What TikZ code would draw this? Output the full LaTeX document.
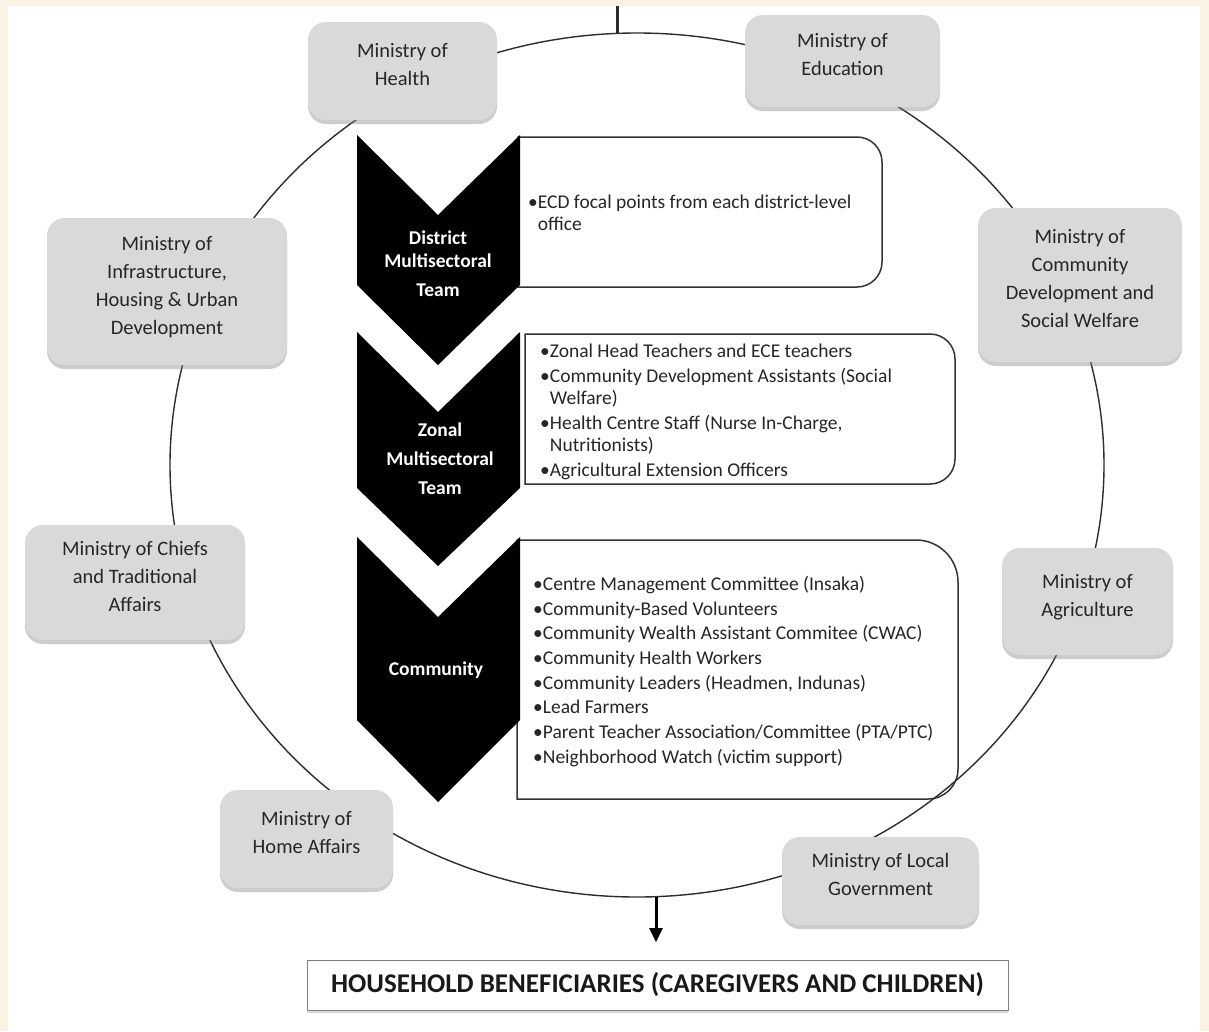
\documentclass[tikz,border=0pt]{standalone}
\usepackage{fontspec}
\setmainfont{Carlito}
\usetikzlibrary{arrows.meta, shadows}

\definecolor{paper}{RGB}{250,243,228}
\definecolor{boxgray}{RGB}{217,217,217}
\definecolor{ringline}{RGB}{45,45,45}

\begin{document}
\begin{tikzpicture}[x=1pt, y=-1pt,
    ministry/.style={fill=boxgray, rounded corners=18pt, align=center, inner sep=0pt,
        text=black!85, font=\fontsize{20.5}{28}\selectfont, text depth=13pt,
        drop shadow={shadow xshift=0pt, shadow yshift=-4pt, opacity=0.4}},
    teamlabel/.style={align=center, text=white, font=\bfseries\fontsize{19.5}{23}\selectfont},
    listtext/.style={align=left, anchor=north west, inner sep=0pt, text=black!85,
        font=\fontsize{19.5}{22}\selectfont},
    listbox/.style={draw=black!80, line width=1.5pt, fill=white},
    ring/.style={draw=ringline, line width=1.4pt}]

% page and frame
\useasboundingbox (0,0) rectangle (1209,1031);
\fill[paper] (0,0) rectangle (1209,1031);
\fill[white] (8,6) rectangle (1200,1031);

\coordinate (ringcentre) at (637,465);
\coordinate (topin) at (617,6);
\coordinate (ringtop) at (617,33);
\coordinate (ringbot) at (656,897);
\coordinate (arrowtip) at (656,942);

% boxes beside the chevrons
\draw[listbox] (518,137) -- (857,137) arc[start angle=-90, end angle=0, radius=25]
      -- (882,262) arc[start angle=0, end angle=90, radius=25] -- (518,287) -- cycle;
\draw[listbox] (525,334) -- (930,334) arc[start angle=-90, end angle=0, radius=25]
      -- (955,459) arc[start angle=0, end angle=90, radius=25] -- (525,484) -- cycle;
\draw[listbox] (517,540) -- (916,540) arc[start angle=-90, end angle=0, radius=42]
      -- (958,769) arc[start angle=0, end angle=90, radius=30] -- (517,799) -- cycle;

% the ring of ministries
\draw[ring] (ringcentre) ellipse [x radius=467, y radius=432];
\draw[ring, line width=3pt] (topin) -- (ringtop);

% chevrons
\fill (357,135) -- (438,215) -- (520,135) -- (520,285) -- (438,365) -- (357,285) -- cycle;
\fill (357,332) -- (438,412) -- (520,332) -- (520,488) -- (438,566) -- (357,488) -- cycle;
\fill (357,537) -- (438,617) -- (520,537) -- (520,720) -- (438,802) -- (357,720) -- cycle;

\node[teamlabel] (district) at (438,264) {District\\Multisectoral\\[6pt]Team};
\node[teamlabel, font=\bfseries\fontsize{19.5}{29}\selectfont] (zonal) at (440,459)
     {Zonal\\Multisectoral\\Team};
\node[teamlabel] (community) at (436,670) {Community};

\node[listtext] (districtlist) at (528,195)
     {•ECD focal points from each district-level\\\phantom{•}office};
\node[listtext] (zonallist) at (540,344)
     {•Zonal Head Teachers and ECE teachers\\[3pt]%
      •Community Development Assistants (Social\\\phantom{•}Welfare)\\[3pt]%
      •Health Centre Staff (Nurse In-Charge,\\\phantom{•}Nutritionists)\\[3pt]%
      •Agricultural Extension Officers};
\node[listtext, font=\fontsize{19.5}{24.7}\selectfont] (communitylist) at (533,576)
     {•Centre Management Committee (Insaka)\\
      •Community-Based Volunteers\\
      •Community Wealth Assistant Commitee (CWAC)\\
      •Community Health Workers\\
      •Community Leaders (Headmen, Indunas)\\
      •Lead Farmers\\
      •Parent Teacher Association/Committee (PTA/PTC)\\
      •Neighborhood Watch (victim support)};

% ministries
\node[ministry, minimum width=189pt, minimum height=98pt] (health) at (402.5,71)
     {Ministry of\\Health};
\node[ministry, minimum width=195pt, minimum height=92pt] (education) at (842.5,61)
     {Ministry of\\Education};
\node[ministry, minimum width=240pt, minimum height=147pt] (infra) at (167,291.5)
     {Ministry of\\Infrastructure,\\Housing \& Urban\\Development};
\node[ministry, minimum width=204pt, minimum height=154pt] (commdev) at (1080,285)
     {Ministry of\\Community\\Development and\\Social Welfare};
\node[ministry, minimum width=220pt, minimum height=115pt] (chiefs) at (135,582.5)
     {Ministry of Chiefs\\and Traditional\\Affairs};
\node[ministry, minimum width=171pt, minimum height=107pt] (agri) at (1087.5,601.5)
     {Ministry of\\Agriculture};
\node[ministry, minimum width=173pt, minimum height=98pt] (homeaff) at (306.5,839)
     {Ministry of\\Home Affairs};
\node[ministry, minimum width=197pt, minimum height=88pt] (localgov) at (880.5,881)
     {Ministry of Local\\Government};

% beneficiaries
\draw[-{Triangle[width=13pt, length=14pt]}, line width=3pt] (ringbot) -- (arrowtip);
\node[draw=black!50, fill=white, minimum width=701pt, minimum height=50pt,
      font=\bfseries\fontsize{27}{30}\selectfont, text=black!90,
      drop shadow={shadow xshift=0pt, shadow yshift=-3pt, opacity=0.3}] (house)
     at (657.5,985) {HOUSEHOLD BENEFICIARIES (CAREGIVERS AND CHILDREN)};

\end{tikzpicture}
\end{document}
